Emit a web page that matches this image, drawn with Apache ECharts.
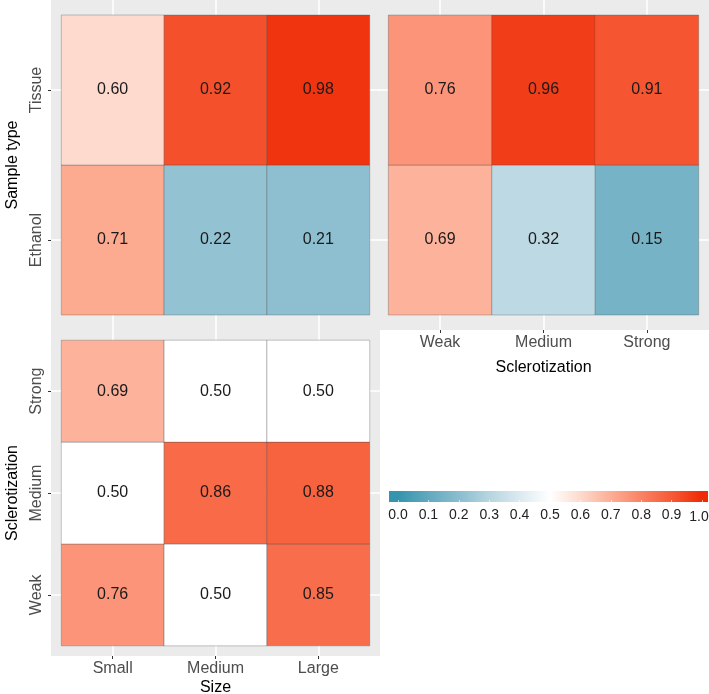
<!DOCTYPE html>
<html>
<head>
<meta charset="utf-8">
<script src="https://cdn.jsdelivr.net/npm/echarts@6/dist/echarts.min.js"></script>
<style>html,body{margin:0;padding:0;background:#fff;}#c{width:709px;height:694px;}</style>
</head>
<body>
<div id="c"></div>
<script>
// ---- data ----
const sizeCats = ['Small', 'Medium', 'Large'];
const scleroCats = ['Weak', 'Medium', 'Strong'];
const sampleTypes = ['Ethanol', 'Tissue'];
// panel 1: Size x Sample type
const sizeTissue = [0.60, 0.92, 0.98];
const sizeEthanol = [0.71, 0.22, 0.21];
// panel 2: Sclerotization x Sample type
const scleroTissue = [0.76, 0.96, 0.91];
const scleroEthanol = [0.69, 0.32, 0.15];
// panel 3: Size x Sclerotization
const sizeWeak = [0.76, 0.50, 0.85];
const sizeMedium = [0.50, 0.86, 0.88];
const sizeStrong = [0.69, 0.50, 0.50];
const legendTicks = [0.0, 0.1, 0.2, 0.3, 0.4, 0.5, 0.6, 0.7, 0.8, 0.9, 1.0];

function rows(list) { // list of [rowIndex(1-based), values]
  const out = [];
  list.forEach(([r, vals]) => vals.forEach((v, i) => out.push([i + 1, r, v])));
  return out;
}
const data1 = rows([[1, sizeEthanol], [2, sizeTissue]]);
const data2 = rows([[1, scleroEthanol], [2, scleroTissue]]);
const data3 = rows([[1, sizeWeak], [2, sizeMedium], [3, sizeStrong]]);

const FONT = '"Liberation Sans", Arial, sans-serif';
const labelColor = '#4D4D4D';
const scaleColors = ['#3594AE', '#62A9BF', '#8ABDCF', '#B6D5E0', '#DBEAF0', '#FFFFFF',
                     '#FDDACD', '#FCAE95', '#FA8264', '#F65A36', '#EF2A05'];

function renderTile(params, api) {
  const x = api.value(0), y = api.value(1), v = api.value(2);
  const p0 = api.coord([x - 0.5, y + 0.5]);
  const p1 = api.coord([x + 0.5, y - 0.5]);
  return {
    type: 'group',
    children: [
      { type: 'rect', shape: { x: p0[0], y: p0[1], width: p1[0] - p0[0], height: p1[1] - p0[1] },
        style: { fill: api.visual('color'), stroke: 'rgba(70,70,70,0.3)', lineWidth: 1 } },
      { type: 'text', style: { text: v.toFixed(2), x: (p0[0] + p1[0]) / 2, y: (p0[1] + p1[1]) / 2,
        align: 'center', verticalAlign: 'middle', font: '16px ' + FONT, fill: '#1a1a1a' } }
    ]
  };
}

function catAxis(gridIndex, n, cats, opts) {
  const vals = cats.map((c, i) => i + 1);
  return Object.assign({
    type: 'value', gridIndex: gridIndex, min: 0.4, max: n + 0.6,
    axisLine: { show: false },
    axisTick: { show: opts.labels, customValues: vals, length: 3, lineStyle: { color: '#333', width: 1 } },
    axisLabel: { show: opts.labels, customValues: vals, color: labelColor, fontSize: 16, fontFamily: FONT,
      margin: 5, formatter: v => cats[Math.round(v) - 1] || '' },
    splitLine: { show: true, lineStyle: { color: '#ffffff', width: 1.5 } },
    nameTextStyle: { color: '#000', fontSize: 16, fontFamily: FONT },
    nameLocation: 'middle'
  }, opts.extra || {});
}

const gridBase = { outerBoundsMode: 'none', containLabel: false, borderWidth: 0 };
const option = {
  animation: false,
  backgroundColor: '#fff',
  grid: [
    Object.assign({ left: 51, top: 0, width: 329, height: 330, show: true, backgroundColor: '#EBEBEB' }, gridBase),
    Object.assign({ left: 378, top: 0, width: 331, height: 330, show: true, backgroundColor: '#EBEBEB' }, gridBase),
    Object.assign({ left: 51, top: 330, width: 329, height: 326, show: true, backgroundColor: '#EBEBEB' }, gridBase),
    Object.assign({ left: 389, top: 491, width: 319, height: 11, show: true,
      backgroundColor: { type: 'linear', x: 0, y: 0, x2: 1, y2: 0,
        colorStops: scaleColors.map((c, i) => ({ offset: (9 + i * 30.4) / 319, color: c })) } }, gridBase)
  ],
  xAxis: [
    catAxis(0, 3, sizeCats, { labels: false }),
    catAxis(1, 3, scleroCats, { labels: true, extra: { name: 'Sclerotization', nameGap: 30 } }),
    catAxis(2, 3, sizeCats, { labels: true, extra: { name: 'Size', nameGap: 24 } }),
    { type: 'value', gridIndex: 3, min: -9 / 304, max: 1 + 6 / 304,
      axisLine: { show: false }, splitLine: { show: false },
      axisTick: { show: true, inside: true, length: 2, customValues: legendTicks, lineStyle: { color: 'rgba(255,255,255,0.6)' } },
      axisLabel: { customValues: legendTicks, color: '#222', fontSize: 14, fontFamily: FONT, margin: 6,
        formatter: v => v >= 0.999 ? '{last|' + v.toFixed(1) + '}' : v.toFixed(1),
        rich: { last: { fontSize: 14, fontFamily: FONT, color: '#222', padding: [2, 6, 0, 0] } } } }
  ],
  yAxis: [
    catAxis(0, 2, sampleTypes, { labels: true, extra: { name: 'Sample type', nameGap: 30, nameRotate: 90,
      axisLabel: { show: true, customValues: [1, 2], rotate: 90, color: labelColor, fontSize: 16, fontFamily: FONT, margin: 6,
        formatter: v => sampleTypes[Math.round(v) - 1] || '' } } }),
    catAxis(1, 2, sampleTypes, { labels: false }),
    catAxis(2, 3, scleroCats, { labels: true, extra: { name: 'Sclerotization', nameGap: 30, nameRotate: 90,
      axisLabel: { show: true, customValues: [1, 2, 3], rotate: 90, color: labelColor, fontSize: 16, fontFamily: FONT, margin: 6,
        formatter: v => scleroCats[Math.round(v) - 1] || '' } } }),
    { type: 'value', gridIndex: 3, min: 0, max: 1, show: false }
  ],
  visualMap: {
    type: 'continuous', min: 0, max: 1, dimension: 2, seriesIndex: [0, 1, 2], show: false,
    inRange: { color: scaleColors }
  },
  series: [
    { type: 'custom', xAxisIndex: 0, yAxisIndex: 0, renderItem: renderTile, data: data1, encode: { x: 0, y: 1 } },
    { type: 'custom', xAxisIndex: 1, yAxisIndex: 1, renderItem: renderTile, data: data2, encode: { x: 0, y: 1 } },
    { type: 'custom', xAxisIndex: 2, yAxisIndex: 2, renderItem: renderTile, data: data3, encode: { x: 0, y: 1 } }
  ]
};

const chart = echarts.init(document.getElementById('c'), null, { renderer: 'canvas' });
chart.setOption(option);
</script>
</body>
</html>
